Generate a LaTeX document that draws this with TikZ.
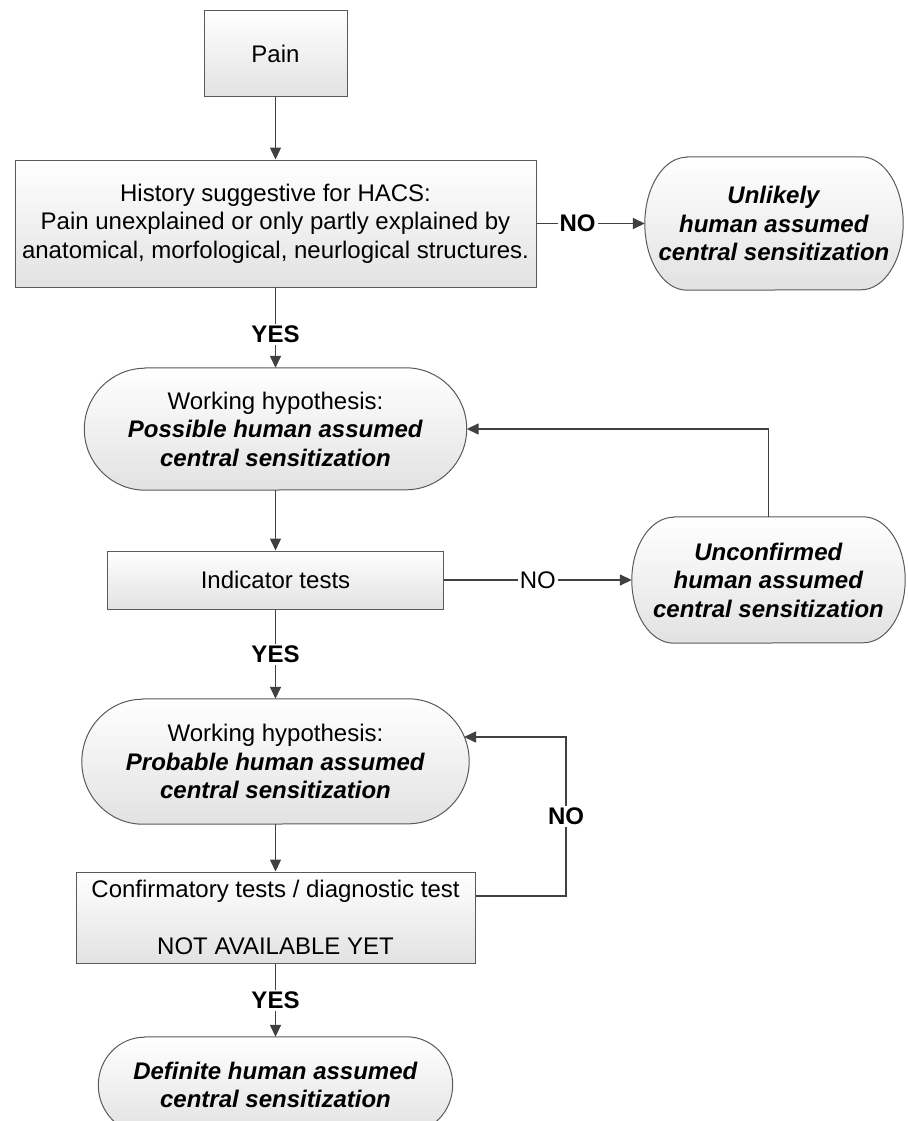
\documentclass[tikz,border=0pt]{standalone}
\usepackage{fontspec}
\setmainfont{Liberation Sans}
\usetikzlibrary{arrows.meta,calc,backgrounds}
\definecolor{ln}{HTML}{404040}
\definecolor{bd}{HTML}{5A5A5A}
\definecolor{shb}{HTML}{E2E2E2}
\newcommand{\bix}[1]{\textbf{\textit{#1}}}
\newcommand{\stadshape}[3]{%
 \begin{pgfonlayer}{background}
 \shadedraw[top color=white,bottom color=shb,draw=bd,line width=1pt]
  ($(#1.north west)+(#2,0)$) -- ($(#1.north east)+(-#2,0)$)
  arc[start angle=90,end angle=-90,x radius=#2,y radius=#3]
  -- ($(#1.south west)+(#2,0)$)
  arc[start angle=270,end angle=90,x radius=#2,y radius=#3] -- cycle;
 \end{pgfonlayer}}
\tikzset{
 base/.style={font=\fontsize{24}{28.5}\selectfont, align=center, inner sep=0pt},
 boxnode/.style={base, rectangle, draw=bd, line width=1pt, top color=white, bottom color=shb},
 stadnode/.style={base, rectangle},
 conn/.style={draw=ln, line width=1.5pt, -{Triangle[length=12pt,width=11pt]}},
 lab/.style={fill=white, font=\fontsize{24}{28.5}\selectfont\bfseries, inner sep=2pt},
 labr/.style={fill=white, font=\fontsize{24}{28.5}\selectfont, inner sep=2pt},
}
\begin{document}
\begin{tikzpicture}[x=1pt,y=1pt]
\useasboundingbox (0,0) rectangle (907,-1121);
\clip (0,0) rectangle (907,-1121);
% nodes
\node[boxnode, minimum width=143pt, minimum height=86pt] (pain) at (275.5,-54) {Pain};
\node[boxnode, minimum width=521pt, minimum height=127pt] (hist) at (275.5,-223.5)
 {History suggestive for HACS:\\Pain unexplained or only partly explained by\\anatomical, morfological, neurlogical structures.};
\node[stadnode, minimum width=258pt, minimum height=133pt] (unl) at (774,-223.5)
 {\bix{Unlikely}\\\bix{human assumed}\\\bix{central sensitization}};
\stadshape{unl}{42}{66.5}
\node[stadnode, minimum width=382pt, minimum height=122pt] (w1) at (275.5,-429)
 {Working hypothesis:\\\bix{Possible human assumed}\\\bix{central sensitization}};
\stadshape{w1}{61}{61}
\node[boxnode, minimum width=336pt, minimum height=58pt] (ind) at (275.5,-580) {Indicator tests};
\node[stadnode, minimum width=273pt, minimum height=126pt] (unc) at (768.5,-580)
 {\bix{Unconfirmed}\\\bix{human assumed}\\\bix{central sensitization}};
\stadshape{unc}{42}{63}
\node[stadnode, minimum width=387pt, minimum height=125pt] (w2) at (275.5,-761.5)
 {Working hypothesis:\\\bix{Probable human assumed}\\\bix{central sensitization}};
\stadshape{w2}{61}{62.5}
\node[boxnode, minimum width=399pt, minimum height=91pt] (conf) at (275.5,-917.5)
 {Confirmatory tests / diagnostic test\\[28.5pt]NOT AVAILABLE YET};
\node[stadnode, minimum width=354pt, minimum height=96pt] (def) at (275.5,-1085)
 {\bix{Definite human assumed}\\\bix{central sensitization}};
\stadshape{def}{46}{48}
% connectors
\draw[conn] (pain.south) -- (hist.north);
\draw[conn] (hist.east) -- node[lab,pos=0.38]{NO} (unl.west);
\draw[conn] (hist.south) -- node[lab,pos=0.58]{YES} (w1.north);
\draw[conn] (w1.south) -- (ind.north);
\draw[conn] (ind.east) -- node[labr]{NO} (unc.west);
\draw[conn] (unc.north) |- (w1.east);
\draw[conn] (ind.south) -- node[lab]{YES} (w2.north);
\draw[conn] (w2.south) -- (conf.north);
\coordinate (lp) at (566,-896);
\coordinate (w2in) at (464,-737);
\draw[conn] (conf.east |- lp) -- (lp) -- node[lab]{NO} (lp |- w2in) -- (w2in);
\draw[conn] (conf.south) -- node[lab]{YES} (def.north);
\end{tikzpicture}
\end{document}
